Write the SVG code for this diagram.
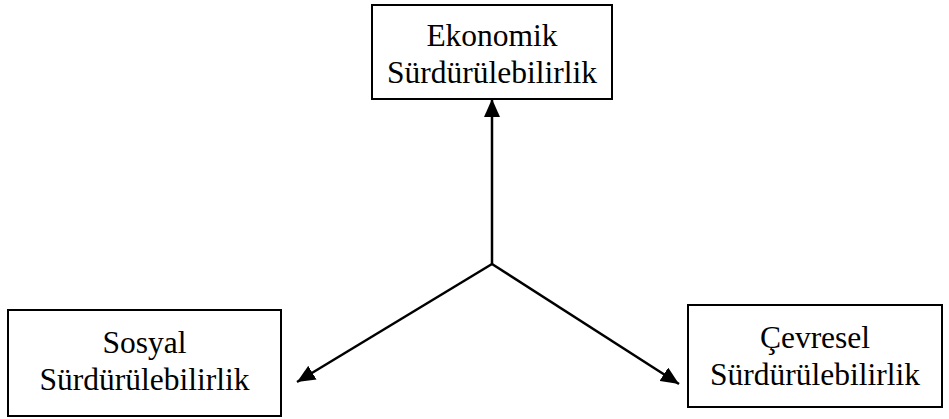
<svg xmlns="http://www.w3.org/2000/svg" width="949" height="419" viewBox="0 0 949 419">
<style>
.box{fill:#fff;stroke:#000;stroke-width:2}
.t{font-family:"Liberation Serif","Times New Roman",serif;font-size:31.5px;fill:#000;text-anchor:middle}
.c{stroke:#000;stroke-width:2.5;fill:none;marker-end:url(#ah)}
</style>
<defs>
<marker id="ah" markerUnits="userSpaceOnUse" markerWidth="18" markerHeight="16" viewBox="0 0 18 16" refX="18" refY="8" orient="auto">
<path d="M0,0 L18,8 L0,16 Z" fill="#000"/>
</marker>
</defs>
<rect width="949" height="419" fill="#fff"/>
<g id="connectors">
<line class="c" x1="492" y1="265" x2="492" y2="99"/>
<line class="c" x1="492" y1="264" x2="297" y2="382"/>
<line class="c" x1="492" y1="264" x2="679" y2="384"/>
</g>
<g id="ekonomik">
<rect class="box" x="372" y="5" width="240" height="94"/>
<text class="t" x="492" y="46">Ekonomik</text>
<text class="t" x="492" y="83">Sürdürülebilirlik</text>
</g>
<g id="sosyal">
<rect class="box" x="8" y="310" width="273" height="106"/>
<text class="t" x="144.5" y="353">Sosyal</text>
<text class="t" x="144.5" y="390">Sürdürülebilirlik</text>
</g>
<g id="cevresel">
<rect class="box" x="688" y="305" width="254" height="102"/>
<text class="t" x="815" y="348">Çevresel</text>
<text class="t" x="815" y="385">Sürdürülebilirlik</text>
</g>
</svg>
